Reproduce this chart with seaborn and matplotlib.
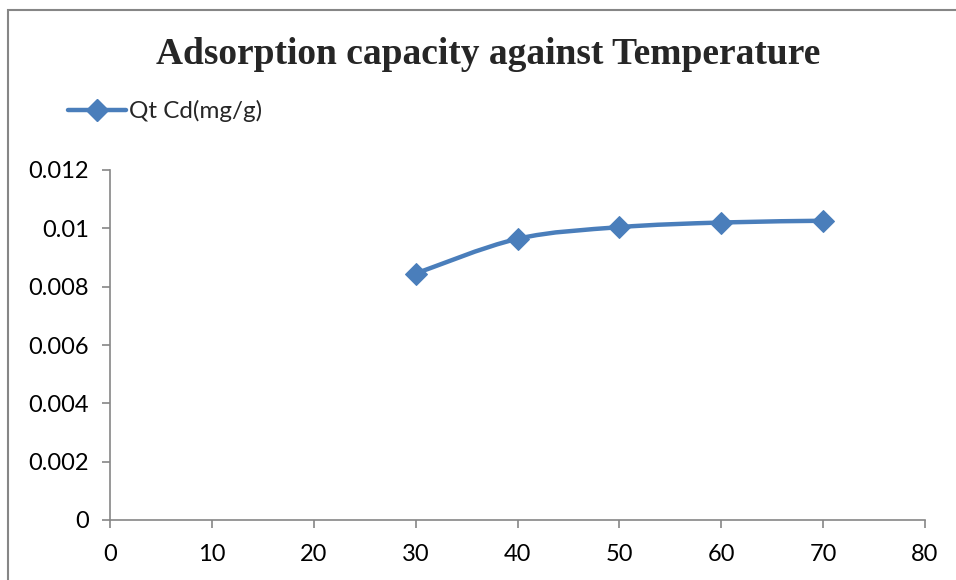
import matplotlib
matplotlib.use("Agg")
import matplotlib.pyplot as plt
import seaborn as sns
import pandas as pd
from matplotlib.path import Path
from matplotlib.patches import PathPatch, Rectangle
from matplotlib.lines import Line2D

temperature = [30, 40, 50, 60, 70]
qt_cd = [0.00845, 0.00964, 0.01004, 0.01020, 0.01026]
series_name = "Qt Cd(mg/g)"
title = "Adsorption capacity against Temperature"
x_ticks = [0, 10, 20, 30, 40, 50, 60, 70, 80]
y_ticks = [0, 0.002, 0.004, 0.006, 0.008, 0.010, 0.012]
y_tick_labels = ["0", "0.002", "0.004", "0.006", "0.008", "0.01", "0.012"]

sns.set_style("white")
plt.rcParams['font.family'] = ['Lato', 'DejaVu Sans']

color = "#4A7EBB"
fig = plt.figure(figsize=(9.56, 5.8), dpi=100)
ax = fig.add_axes([110/956, 60/580, 815/956, 350/580])

df = pd.DataFrame({"T": temperature, "Q": qt_cd})

# smooth (Excel-like) curve via cubic Bezier segments
xs, ys = temperature, qt_cd
n = len(xs)
verts = [(xs[0], ys[0])]
codes = [Path.MOVETO]
for i in range(n - 1):
    p0 = (xs[max(i - 1, 0)], ys[max(i - 1, 0)])
    p1 = (xs[i], ys[i])
    p2 = (xs[i + 1], ys[i + 1])
    p3 = (xs[min(i + 2, n - 1)], ys[min(i + 2, n - 1)])
    c1 = (p1[0] + (p2[0] - p0[0]) / 6, p1[1] + (p2[1] - p0[1]) / 6)
    c2 = (p2[0] - (p3[0] - p1[0]) / 6, p2[1] - (p3[1] - p1[1]) / 6)
    verts += [c1, c2, p2]
    codes += [Path.CURVE4] * 3
ax.add_patch(PathPatch(Path(verts, codes), facecolor="none", edgecolor=color,
                       lw=3.2, capstyle="round", joinstyle="round", zorder=2))

sns.lineplot(data=df, x="T", y="Q", ax=ax, marker="D", markersize=11,
             color=color, linestyle="none", markeredgecolor=color, zorder=3)

ax.set_xlim(0, 80)
ax.set_ylim(0, 0.012)
ax.set_xticks(x_ticks)
ax.set_xticklabels([str(t) for t in x_ticks])
ax.set_yticks(y_ticks)
ax.set_yticklabels(y_tick_labels)
ax.set_xlabel("")
ax.set_ylabel("")
ax.grid(False)
for s in ["top", "right"]:
    ax.spines[s].set_visible(False)
for s in ["left", "bottom"]:
    ax.spines[s].set_color("#868686")
    ax.spines[s].set_linewidth(1.2)
ax.tick_params(axis="both", direction="out", length=6, width=1.2, color="#868686",
               labelsize=17, labelcolor="black", left=True, bottom=True)
ax.tick_params(axis="x", pad=11)
ax.tick_params(axis="y", pad=9)

fig.text(488/956, 1 - 55/580, title, ha="center", va="center",
         fontsize=27, fontweight="bold", family=["Liberation Serif", "DejaVu Serif"])

handle = Line2D([], [], color=color, lw=3.2, marker="D", markersize=11)
fig.legend([handle], [series_name], loc="center left",
           bbox_to_anchor=(68/956, 1 - 111/580), frameon=False, fontsize=17.5,
           handlelength=2.4, handletextpad=0.1, borderaxespad=0, borderpad=0)

fig.patches.append(Rectangle((8/956, -0.1), 1.2, 1 - 10/580 + 0.1,
                             transform=fig.transFigure, fill=False,
                             edgecolor="#868686", lw=1.5))

fig.savefig("out.png", dpi=100)
